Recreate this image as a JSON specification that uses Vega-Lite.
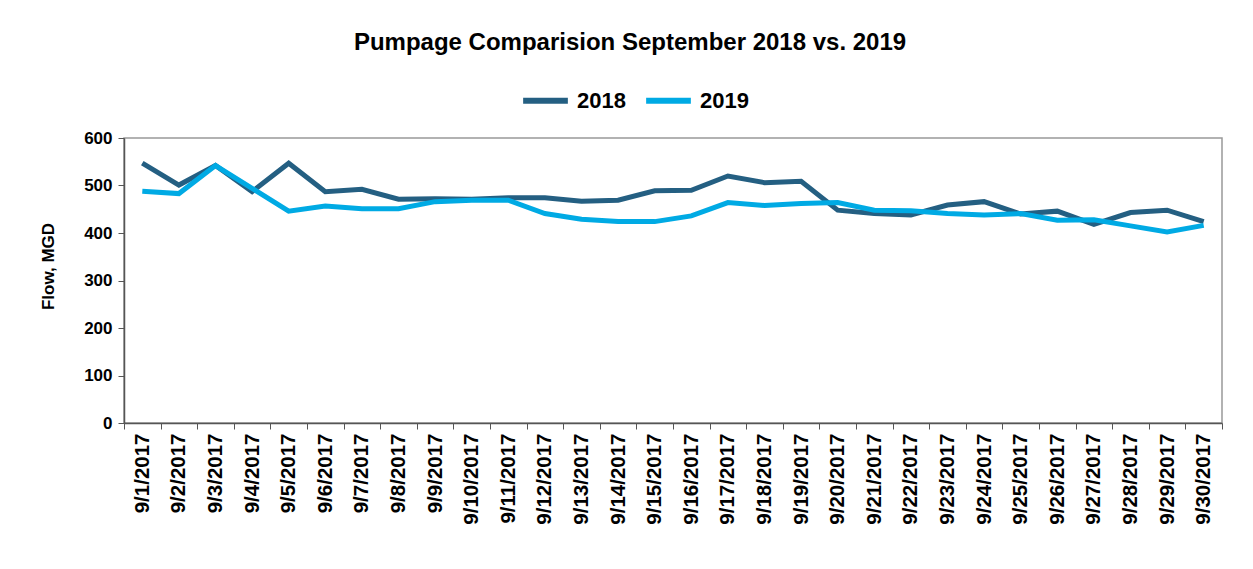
{
  "$schema": "https://vega.github.io/schema/vega-lite/v6.json",
  "autosize": "none",
  "width": 1098,
  "height": 285,
  "padding": {"left": 124, "top": 138, "right": 31, "bottom": 146},
  "background": "white",
  "title": {
    "text": "Pumpage Comparision September 2018 vs. 2019",
    "font": "Liberation Sans",
    "fontSize": 24,
    "fontWeight": "bold",
    "color": "black",
    "anchor": "middle",
    "dx": -43,
    "offset": 20
  },
  "data": {
    "values": [
      {"date": "9/1/2017", "year": "2018", "flow": 547},
      {"date": "9/2/2017", "year": "2018", "flow": 501},
      {"date": "9/3/2017", "year": "2018", "flow": 542},
      {"date": "9/4/2017", "year": "2018", "flow": 487},
      {"date": "9/5/2017", "year": "2018", "flow": 547},
      {"date": "9/6/2017", "year": "2018", "flow": 487},
      {"date": "9/7/2017", "year": "2018", "flow": 492},
      {"date": "9/8/2017", "year": "2018", "flow": 471},
      {"date": "9/9/2017", "year": "2018", "flow": 472},
      {"date": "9/10/2017", "year": "2018", "flow": 471},
      {"date": "9/11/2017", "year": "2018", "flow": 474},
      {"date": "9/12/2017", "year": "2018", "flow": 474},
      {"date": "9/13/2017", "year": "2018", "flow": 467},
      {"date": "9/14/2017", "year": "2018", "flow": 469},
      {"date": "9/15/2017", "year": "2018", "flow": 489},
      {"date": "9/16/2017", "year": "2018", "flow": 490},
      {"date": "9/17/2017", "year": "2018", "flow": 520},
      {"date": "9/18/2017", "year": "2018", "flow": 506},
      {"date": "9/19/2017", "year": "2018", "flow": 509},
      {"date": "9/20/2017", "year": "2018", "flow": 448},
      {"date": "9/21/2017", "year": "2018", "flow": 441},
      {"date": "9/22/2017", "year": "2018", "flow": 438},
      {"date": "9/23/2017", "year": "2018", "flow": 459},
      {"date": "9/24/2017", "year": "2018", "flow": 466},
      {"date": "9/25/2017", "year": "2018", "flow": 440},
      {"date": "9/26/2017", "year": "2018", "flow": 446},
      {"date": "9/27/2017", "year": "2018", "flow": 418},
      {"date": "9/28/2017", "year": "2018", "flow": 443},
      {"date": "9/29/2017", "year": "2018", "flow": 448},
      {"date": "9/30/2017", "year": "2018", "flow": 424},
      {"date": "9/1/2017", "year": "2019", "flow": 488},
      {"date": "9/2/2017", "year": "2019", "flow": 483},
      {"date": "9/3/2017", "year": "2019", "flow": 542},
      {"date": "9/4/2017", "year": "2019", "flow": 494},
      {"date": "9/5/2017", "year": "2019", "flow": 446},
      {"date": "9/6/2017", "year": "2019", "flow": 457},
      {"date": "9/7/2017", "year": "2019", "flow": 451},
      {"date": "9/8/2017", "year": "2019", "flow": 451},
      {"date": "9/9/2017", "year": "2019", "flow": 466},
      {"date": "9/10/2017", "year": "2019", "flow": 469},
      {"date": "9/11/2017", "year": "2019", "flow": 469},
      {"date": "9/12/2017", "year": "2019", "flow": 441},
      {"date": "9/13/2017", "year": "2019", "flow": 429},
      {"date": "9/14/2017", "year": "2019", "flow": 424},
      {"date": "9/15/2017", "year": "2019", "flow": 424},
      {"date": "9/16/2017", "year": "2019", "flow": 436},
      {"date": "9/17/2017", "year": "2019", "flow": 464},
      {"date": "9/18/2017", "year": "2019", "flow": 458},
      {"date": "9/19/2017", "year": "2019", "flow": 462},
      {"date": "9/20/2017", "year": "2019", "flow": 464},
      {"date": "9/21/2017", "year": "2019", "flow": 448},
      {"date": "9/22/2017", "year": "2019", "flow": 447},
      {"date": "9/23/2017", "year": "2019", "flow": 441},
      {"date": "9/24/2017", "year": "2019", "flow": 438},
      {"date": "9/25/2017", "year": "2019", "flow": 441},
      {"date": "9/26/2017", "year": "2019", "flow": 427},
      {"date": "9/27/2017", "year": "2019", "flow": 428},
      {"date": "9/28/2017", "year": "2019", "flow": 415},
      {"date": "9/29/2017", "year": "2019", "flow": 402},
      {"date": "9/30/2017", "year": "2019", "flow": 416}
    ]
  },
  "mark": {"type": "line", "strokeWidth": 5, "strokeJoin": "miter", "strokeCap": "butt"},
  "encoding": {
    "x": {
      "field": "date",
      "type": "ordinal",
      "sort": null,
      "bandPosition": 0.5,
      "scale": {"type": "band", "paddingInner": 0, "paddingOuter": 0},
      "axis": {
        "title": null,
        "labelAngle": -90,
        "labelAlign": "right",
        "labelBaseline": "middle",
        "labelFont": "Liberation Sans",
        "labelFontWeight": "bold",
        "labelFontSize": 20.5,
        "labelColor": "black",
        "labelPadding": 4,
        "tickBand": "extent",
        "tickSize": 6,
        "tickColor": "#555555",
        "domainColor": "#555555",
        "domainWidth": 1.5,
        "grid": false
      }
    },
    "y": {
      "field": "flow",
      "type": "quantitative",
      "scale": {"domain": [0, 600], "nice": false},
      "axis": {
        "title": "Flow, MGD",
        "titleFont": "Liberation Sans",
        "titleFontWeight": "bold",
        "titleFontSize": 17,
        "titleColor": "black",
        "titlePadding": 26,
        "titleY": 128,
        "values": [0, 100, 200, 300, 400, 500, 600],
        "labelFont": "Liberation Sans",
        "labelFontWeight": "bold",
        "labelFontSize": 17,
        "labelColor": "black",
        "labelPadding": 6,
        "tickSize": 6,
        "tickColor": "#555555",
        "domainColor": "#555555",
        "domainWidth": 1.5,
        "grid": false
      }
    },
    "color": {
      "field": "year",
      "type": "nominal",
      "scale": {"domain": ["2018", "2019"], "range": ["#245F82", "#00AAE4"]},
      "legend": {
        "title": null,
        "orient": "none",
        "direction": "horizontal",
        "legendX": 396,
        "legendY": -63,
        "symbolType": "stroke",
        "symbolSize": 2000,
        "symbolStrokeWidth": 6,
        "labelFont": "Liberation Sans",
        "labelFontWeight": "bold",
        "labelFontSize": 22,
        "labelColor": "black",
        "labelOffset": 6,
        "columnPadding": 8
      }
    }
  },
  "config": {
    "view": {"stroke": "#999999", "strokeWidth": 1.5}
  }
}
